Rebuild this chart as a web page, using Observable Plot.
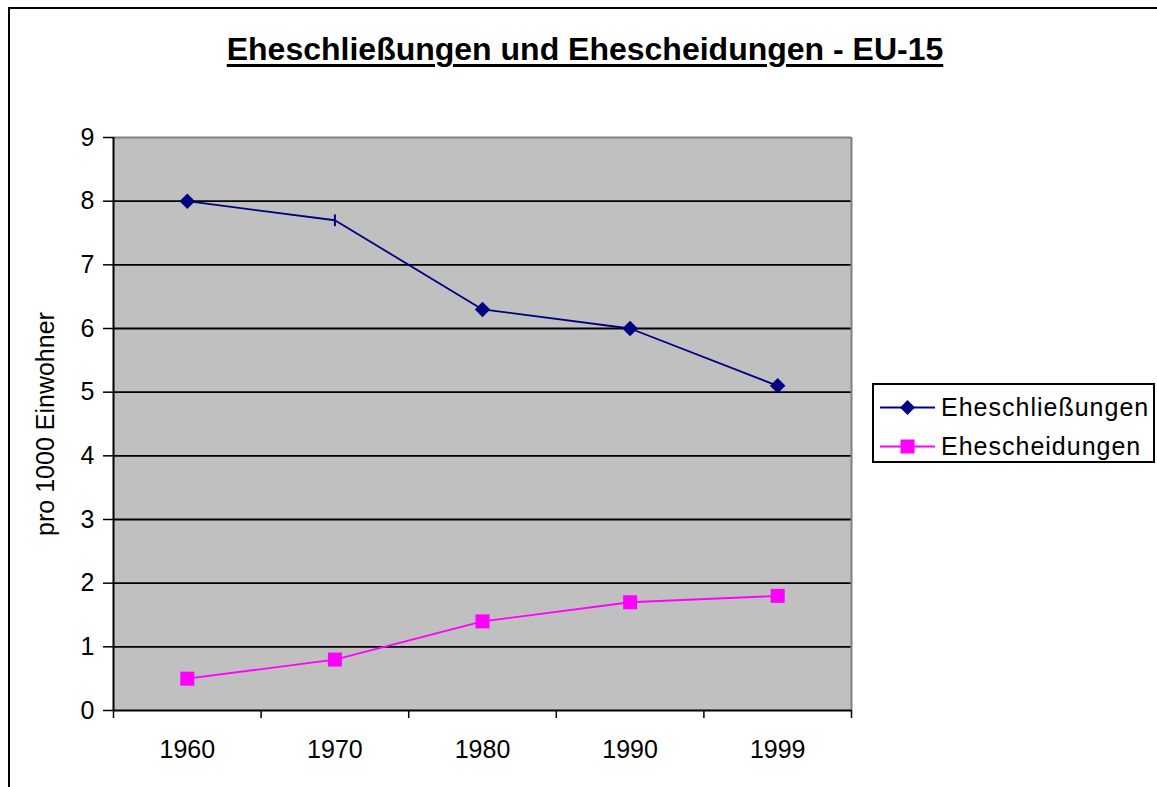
<!DOCTYPE html>
<html>
<head>
<meta charset="utf-8">
<script src="https://cdn.jsdelivr.net/npm/d3@7"></script>
<script src="https://cdn.jsdelivr.net/npm/@observablehq/plot@0.6"></script>
<style>
  html, body { margin: 0; padding: 0; background: #fff; }
  #wrap { position: relative; width: 1157px; height: 787px; overflow: hidden; font-family: "Liberation Sans", Arial, sans-serif; }
  #frame { position: absolute; left: 8px; top: 7px; width: 1200px; height: 900px; border-left: 2px solid #000; border-top: 2px solid #000; box-sizing: border-box; }
  #title { position: absolute; left: 0; top: 31px; width: 1170px; line-height: 37px; text-align: center; font-weight: bold; font-size: 32px; text-decoration: underline; text-decoration-thickness: 3px; text-underline-offset: 4px; }
  #chart { position: absolute; left: 0; top: 0; }
  #legend { position: absolute; left: 872px; top: 383px; width: 283px; height: 80px; border: 2px solid #000; box-sizing: border-box; background: #fff; }
  .row { position: absolute; left: 0; height: 30px; display: flex; align-items: center; font-size: 25px; letter-spacing: 1px; white-space: nowrap; }
  .row svg { margin-left: 6px; margin-right: 6px; }
</style>
</head>
<body>
<div id="wrap">
  <div id="frame"></div>
  <div id="title"></div>
  <div id="chart"></div>
  <div id="legend"></div>
</div>
<script>
const titleText = "Eheschließungen und Ehescheidungen - EU-15";
const yLabel = "pro 1000 Einwohner";
const years = ["1960", "1970", "1980", "1990", "1999"];
const seriesNames = ["Eheschließungen", "Ehescheidungen"];
const marriages = [8.0, 7.7, 6.3, 6.0, 5.1];
const divorces = [0.5, 0.8, 1.4, 1.7, 1.8];
const yTicks = [0, 1, 2, 3, 4, 5, 6, 7, 8, 9];
const colors = ["#000080", "#ff00ff"];

document.getElementById("title").textContent = titleText;

const rowsM = years.map((y, i) => ({i, year: y, value: marriages[i]}));
const rowsD = years.map((y, i) => ({i, year: y, value: divorces[i]}));
const pos = d => d.i + 0.5;

const vtick = {
  draw(ctx, size) {
    const h = Math.sqrt(size) * 0.55;
    ctx.moveTo(0, -h); ctx.lineTo(0, h);
  }
};

const chart = Plot.plot({
  width: 1157,
  height: 787,
  marginLeft: 113,
  marginRight: 306,
  marginTop: 137,
  marginBottom: 77,
  style: {fontFamily: "'Liberation Sans', Arial, sans-serif", fontSize: "25px", color: "#000", background: "transparent", overflow: "visible"},
  x: {type: "linear", domain: [0, years.length]},
  y: {domain: [0, 9]},
  marks: [
    Plot.frame({fill: "#c0c0c0", stroke: null}),
    Plot.ruleY(yTicks.filter(t => t > 0 && t < 9), {stroke: "#000", strokeWidth: 1.8}),
    Plot.ruleY([9], {stroke: "#808080", strokeWidth: 2}),
    Plot.ruleX([years.length], {stroke: "#808080", strokeWidth: 2}),
    Plot.axisY({ticks: yTicks, tickSize: 10, tickPadding: 9, strokeWidth: 1.5, label: null, fontSize: 25, style: {letterSpacing: "0.8px"}}),
    Plot.axisY({ticks: [], label: yLabel, labelAnchor: "center", labelArrow: "none", labelOffset: 77, fontSize: 25, style: {letterSpacing: "1.8px"}}),
    Plot.axisX({ticks: d3.range(years.length + 1), tickSize: 8, tickFormat: () => "", strokeWidth: 1.5, label: null}),
    Plot.axisX({ticks: years.map((y, i) => i + 0.5), tickSize: 0, tickPadding: 30, tickFormat: t => years[Math.floor(t)], label: null, fontSize: 25, style: {letterSpacing: "0.8px"}}),
    Plot.ruleX([0], {stroke: "#000", strokeWidth: 2}),
    Plot.ruleY([0], {stroke: "#000", strokeWidth: 2}),
    Plot.line(rowsM, {x: pos, y: "value", stroke: colors[0], strokeWidth: 1.8}),
    Plot.line(rowsD, {x: pos, y: "value", stroke: colors[1], strokeWidth: 1.8}),
    Plot.dot(rowsM.filter(d => d.year !== "1970"), {x: pos, y: "value", symbol: "diamond2", r: 7, fill: colors[0], stroke: null}),
    Plot.dot(rowsM.filter(d => d.year === "1970"), {x: pos, y: "value", symbol: vtick, r: 6, stroke: colors[0], strokeWidth: 2, fill: "none"}),
    Plot.dot(rowsD, {x: pos, y: "value", symbol: "square", r: 7.9, fill: colors[1], stroke: null})
  ]
});
document.getElementById("chart").appendChild(chart);

// legend
const legend = document.getElementById("legend");
const shapes = [
  '<polygon points="27.5,3 35,10.5 27.5,18 20,10.5" fill="' + colors[0] + '"/>',
  '<rect x="20.5" y="3.5" width="14" height="14" fill="' + colors[1] + '"/>'
];
seriesNames.forEach((name, k) => {
  const row = document.createElement("div");
  row.className = "row";
  row.style.top = (k === 0 ? 7 : 46) + "px";
  row.innerHTML = '<svg width="55" height="21"><line x1="0" y1="10.5" x2="55" y2="10.5" stroke="' + colors[k] + '" stroke-width="1.8"/>' + shapes[k] + '</svg><span></span>';
  row.querySelector("span").textContent = name;
  legend.appendChild(row);
});
</script>
</body>
</html>
